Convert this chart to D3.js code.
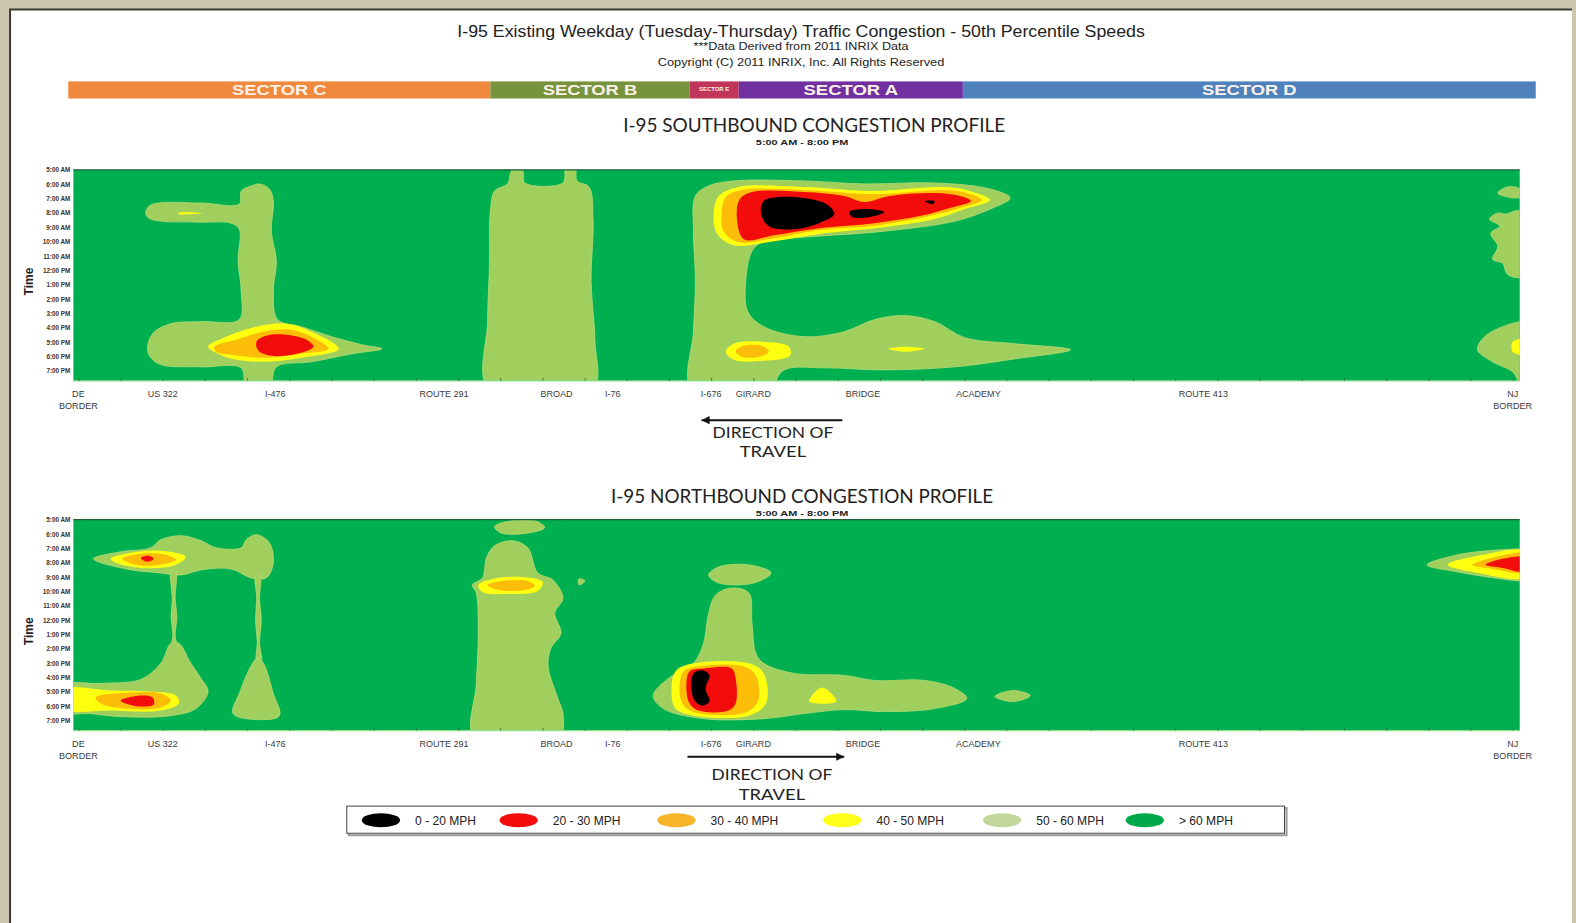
<!DOCTYPE html>
<html>
<head>
<meta charset="utf-8">
<script src="https://cdn.jsdelivr.net/npm/d3@7"></script>
<style>
html, body { margin: 0; padding: 0; background: #cdc6ad; }
svg { display: block; }
</style>
</head>
<body>
<svg id="chart" width="1576" height="923"></svg>
<script>
// ---- data ----
var sectors = [
    {name: "SECTOR C", from: -0.36, to: 14.65},
    {name: "SECTOR B", from: 14.65, to: 21.73},
    {name: "SECTOR E", from: 21.73, to: 23.48},
    {name: "SECTOR A", from: 23.48, to: 31.45},
    {name: "SECTOR D", from: 31.45, to: 51.82}
];

var locations = [
    {name: ["DE", "BORDER"], mile: 0},
    {name: ["US 322"], mile: 3.0},
    {name: ["I-476"], mile: 7.0},
    {name: ["ROUTE 291"], mile: 13.0},
    {name: ["BROAD"], mile: 17.0},
    {name: ["I-76"], mile: 19.0},
    {name: ["I-676"], mile: 22.5},
    {name: ["GIRARD"], mile: 24.0},
    {name: ["BRIDGE"], mile: 27.9},
    {name: ["ACADEMY"], mile: 32.0},
    {name: ["ROUTE 413"], mile: 40.0},
    {name: ["NJ", "BORDER"], mile: 51.0}
];

var hours = [5, 6, 7, 8, 9, 10, 11, 12, 13, 14, 15, 16, 17, 18, 19];
var hourLabels = ["5:00 AM", "6:00 AM", "7:00 AM", "8:00 AM", "9:00 AM", "10:00 AM", "11:00 AM",
    "12:00 PM", "1:00 PM", "2:00 PM", "3:00 PM", "4:00 PM", "5:00 PM", "6:00 PM", "7:00 PM"];

var speedClasses = ["0-20", "20-30", "30-40", "40-50", "50-60", ">60"];
var speedLabels = ["0 - 20 MPH", "20 - 30 MPH", "30 - 40 MPH", "40 - 50 MPH", "50 - 60 MPH", "> 60 MPH"];

// congestion zones: outline points [milepost, hour of day]
var southZones = [
    {cls: "50-60", pts: [[2.39,8.01],[2.57,7.45],[4.36,7.31],[5.72,7.38],[5.79,6.47],[6.15,6.12],[6.43,5.98],[6.79,6.33],[6.93,7.17],[6.86,9.27],[7.04,11.37],[6.93,13.47],[7.08,15.43],[7.93,15.92],[9.01,16.62],[10.08,17.18],[10.79,17.46],[9.72,17.81],[8.29,18.37],[7.04,18.72],[6.79,20.2],[5.97,20.2],[5.79,18.79],[4.36,18.72],[2.86,18.51],[2.47,17.67],[2.64,16.41],[3.29,15.71],[4.36,15.57],[5.72,15.43],[5.79,13.47],[5.68,11.37],[5.72,9.13],[5.43,8.71],[4.36,8.64],[2.93,8.57],[2.50,8.36]]},
    {cls: "40-50", pts: [[3.54,8.0],[4.0,7.95],[4.4,8.03],[4.0,8.1],[3.54,8.07]]},
    {cls: "40-50", pts: [[4.61,17.32],[5.25,16.62],[6.33,15.92],[7.40,15.71],[8.29,16.27],[9.26,17.46],[7.93,18.09],[6.68,18.37],[5.43,18.16],[4.97,17.81]]},
    {cls: "30-40", pts: [[4.83,17.32],[5.61,16.83],[6.58,16.27],[7.58,16.13],[8.36,16.69],[8.90,17.46],[7.93,17.81],[6.68,18.09],[5.43,17.88],[4.90,17.67]]},
    {cls: "20-30", pts: [[6.33,16.97],[6.68,16.55],[7.40,16.48],[8.11,16.83],[8.36,17.32],[7.76,17.81],[6.86,17.95],[6.40,17.60]]},
    {cls: "50-60", pts: [[14.58,20.2],[14.55,15.57],[14.62,11.37],[14.65,7.87],[14.80,6.47],[15.26,5.98],[15.37,5.2],[15.51,4.8],[15.80,5.07],[15.87,5.91],[17.23,5.91],[17.34,4.8],[17.66,4.8],[17.73,5.77],[18.16,6.19],[18.30,8.57],[18.23,12.77],[18.37,16.97],[18.30,20.2]]},
    {cls: "50-60", pts: [[21.80,20.2],[21.87,16.27],[21.94,12.77],[21.87,9.27],[21.94,6.82],[22.41,6.12],[23.30,5.77],[25.80,5.77],[27.95,5.98],[30.45,5.91],[32.42,6.33],[33.13,6.96],[32.42,7.73],[31.17,8.57],[28.66,9.27],[25.80,9.69],[24.37,9.97],[23.95,10.67],[23.73,12.77],[23.80,14.87],[24.37,15.92],[25.80,16.62],[27.23,16.27],[28.31,15.43],[29.38,15.15],[30.45,15.57],[31.52,16.69],[33.31,17.11],[35.28,17.53],[33.31,18.16],[31.17,18.72],[28.66,18.93],[26.52,18.79],[25.09,18.93],[24.55,20.2]]},
    {cls: "40-50", pts: [[22.59,8.01],[22.77,6.82],[23.48,6.19],[25.80,6.19],[28.31,6.47],[30.81,6.19],[31.70,6.47],[32.42,7.10],[31.52,7.73],[30.45,8.43],[28.66,8.99],[26.52,9.41],[24.73,9.97],[23.30,10.25],[22.70,9.41]]},
    {cls: "30-40", pts: [[22.87,8.01],[23.02,6.89],[23.59,6.40],[25.80,6.40],[28.31,6.68],[30.81,6.40],[31.59,6.61],[32.13,7.10],[31.35,7.66],[30.27,8.22],[28.48,8.85],[26.34,9.20],[24.73,9.76],[23.48,10.04],[22.94,9.27]]},
    {cls: "20-30", pts: [[23.41,8.22],[23.52,7.03],[23.95,6.54],[25.80,6.54],[27.23,6.82],[27.95,7.24],[28.84,6.82],[30.45,6.61],[31.35,6.82],[31.74,7.17],[30.99,7.66],[29.92,8.22],[28.31,8.71],[26.34,9.06],[24.73,9.55],[23.66,9.83]]},
    {cls: "0-20", pts: [[24.27,8.01],[24.37,7.17],[24.91,6.89],[25.80,6.96],[26.59,7.38],[26.88,8.08],[26.34,8.71],[25.45,9.13],[24.55,8.92]]},
    {cls: "0-20", pts: [[27.41,7.94],[27.95,7.73],[28.66,7.94],[28.13,8.29],[27.52,8.29]]},
    {cls: "0-20", pts: [[30.09,7.17],[30.45,7.17],[30.38,7.38]]},
    {cls: "40-50", pts: [[23.02,17.67],[23.30,17.11],[24.37,16.97],[25.27,17.32],[25.30,17.95],[24.37,18.30],[23.30,18.23]]},
    {cls: "30-40", pts: [[23.37,17.60],[23.66,17.25],[24.30,17.25],[24.55,17.67],[24.20,18.02],[23.59,18.02]]},
    {cls: "40-50", pts: [[28.80,17.46],[29.38,17.32],[30.09,17.46],[29.38,17.67]]},
    {cls: "50-60", pts: [[50.47,6.61],[50.82,6.19],[51.25,6.33],[51.25,6.89],[50.82,6.89]]},
    {cls: "50-60", pts: [[50.47,8.01],[50.75,8.08],[51.25,7.87],[51.32,12.42],[50.82,12.28],[50.64,11.51],[50.29,11.23],[50.47,10.32],[50.22,9.41],[50.54,8.92],[50.18,8.43]]},
    {cls: "50-60", pts: [[51.5,15.5],[51.25,15.57],[50.64,15.92],[50.0,16.62],[49.75,17.53],[50.29,18.37],[51.0,19.07],[51.25,19.8],[51.6,20.2]]},
    {cls: "40-50", pts: [[51.0,16.97],[51.4,16.83],[51.4,17.88],[51.0,17.67]]}
];

var northZones = [
    {cls: "50-60", pts: [[0.54,7.73],[1.50,7.24],[2.57,6.96],[2.93,6.40],[3.65,6.12],[4.36,6.47],[4.90,6.96],[5.79,6.96],[5.97,6.40],[6.33,6.05],[6.79,6.61],[6.93,8.01],[6.68,9.06],[6.15,9.06],[5.43,8.43],[4.36,8.50],[3.65,8.85],[2.93,8.71],[1.68,8.43]]},
    {cls: "50-60", pts: [[3.30,8.6],[3.46,8.6],[3.44,10.5],[3.50,11.8],[3.44,13.0],[3.48,13.8],[3.34,13.8],[3.36,13.0],[3.30,11.8],[3.34,10.5]]},
    {cls: "50-60", pts: [[6.30,8.8],[6.46,8.8],[6.44,10.5],[6.50,12.0],[6.44,13.5],[6.50,15.0],[6.34,15.0],[6.36,13.5],[6.30,12.0],[6.34,10.5]]},
    {cls: "50-60", pts: [[-0.5,16.55],[0.79,16.41],[2.22,16.13],[2.93,15.01],[3.29,13.61],[3.57,13.61],[4.00,15.01],[4.36,16.06],[4.61,16.97],[4.18,18.16],[3.29,18.65],[1.50,18.72],[0.43,18.51],[-0.5,18.37]]},
    {cls: "50-60", pts: [[6.36,14.66],[6.58,15.01],[6.93,17.11],[7.15,18.65],[6.43,18.93],[5.50,18.51],[5.72,17.11],[6.15,15.15]]},
    {cls: "40-50", pts: [[1.14,7.73],[1.86,7.31],[2.93,7.17],[3.82,7.59],[3.36,8.22],[2.22,8.36],[1.43,8.08]]},
    {cls: "30-40", pts: [[1.57,7.73],[2.22,7.38],[3.11,7.45],[3.47,7.80],[2.93,8.15],[2.04,8.15]]},
    {cls: "20-30", pts: [[2.22,7.66],[2.50,7.52],[2.68,7.73],[2.43,7.94]]},
    {cls: "40-50", pts: [[-0.5,16.83],[1.14,16.90],[2.57,16.97],[3.47,17.25],[3.57,17.81],[2.93,18.30],[1.14,18.30],[-0.5,18.16]]},
    {cls: "30-40", pts: [[0.61,17.39],[1.86,17.04],[2.93,17.11],[3.29,17.60],[2.93,18.09],[1.68,18.16],[0.79,17.81]]},
    {cls: "20-30", pts: [[1.50,17.60],[2.22,17.25],[2.64,17.39],[2.68,17.88],[2.22,18.02],[1.68,17.81]]},
    {cls: "50-60", pts: [[14.08,20.2],[14.15,16.41],[14.22,12.91],[14.15,10.11],[14.01,9.55],[14.37,9.06],[14.51,7.66],[14.80,6.82],[15.44,6.47],[15.98,6.96],[16.33,8.71],[16.87,9.20],[17.23,10.46],[16.94,11.51],[17.16,12.91],[16.80,13.96],[16.70,15.2],[17.05,17.46],[17.23,18.51],[17.09,20.2]]},
    {cls: "50-60", pts: [[14.80,5.49],[15.44,5.07],[16.33,5.14],[16.58,5.56],[15.80,5.98],[15.01,5.91]]},
    {cls: "50-60", pts: [[17.80,9.13],[18.01,9.27],[17.80,9.55]]},
    {cls: "40-50", pts: [[14.22,9.55],[14.72,9.13],[15.80,8.99],[16.51,9.34],[16.33,9.97],[15.22,10.18],[14.36,10.04]]},
    {cls: "30-40", pts: [[14.54,9.55],[15.08,9.27],[15.98,9.27],[16.23,9.62],[15.87,9.90],[14.94,9.90]]},
    {cls: "50-60", pts: [[22.41,8.85],[22.77,8.29],[23.84,8.15],[24.63,8.71],[24.02,9.41],[22.77,9.41]]},
    {cls: "50-60", pts: [[22.66,10.25],[23.23,9.76],[23.84,10.11],[23.95,12.21],[24.09,14.31],[24.37,15.01],[25.45,15.71],[27.23,15.85],[28.31,16.20],[30.09,16.20],[31.17,16.76],[31.59,17.46],[30.45,18.16],[28.66,18.37],[27.23,18.23],[25.80,18.51],[24.37,18.86],[22.23,18.86],[20.80,18.16],[20.44,17.25],[20.98,16.06],[21.87,15.01],[22.23,13.61],[22.41,11.51]]},
    {cls: "50-60", pts: [[32.59,17.32],[33.24,16.90],[33.85,17.25],[33.24,17.67]]},
    {cls: "40-50", pts: [[21.09,17.11],[21.23,15.57],[21.87,15.01],[23.84,15.01],[24.37,15.71],[24.45,17.81],[23.84,18.65],[21.87,18.65],[21.23,18.16]]},
    {cls: "30-40", pts: [[21.37,16.97],[21.52,15.57],[22.05,15.22],[23.66,15.22],[24.09,15.85],[24.16,17.67],[23.73,18.44],[21.94,18.44],[21.52,17.95]]},
    {cls: "20-30", pts: [[21.62,16.76],[21.73,15.57],[22.23,15.36],[23.23,15.36],[23.37,16.06],[23.37,17.81],[23.12,18.30],[22.05,18.30],[21.73,17.81]]},
    {cls: "0-20", pts: [[21.87,15.71],[22.23,15.50],[22.44,15.85],[22.30,16.76],[22.44,17.67],[22.16,17.95],[21.87,17.46]]},
    {cls: "40-50", pts: [[25.98,17.67],[26.45,16.69],[26.95,17.67]]},
    {cls: "50-60", pts: [[47.96,8.15],[49.04,7.45],[50.11,7.17],[51.25,7.03],[51.6,7.0],[51.6,9.27],[51.25,9.27],[50.11,8.99],[49.04,8.64]]},
    {cls: "40-50", pts: [[48.68,8.15],[49.75,7.52],[51.6,7.24],[51.6,8.99],[49.75,8.71]]},
    {cls: "30-40", pts: [[49.57,8.15],[50.29,7.66],[51.6,7.38],[51.6,8.64],[50.29,8.43]]},
    {cls: "20-30", pts: [[50.04,8.15],[50.64,7.73],[51.6,7.66],[51.6,8.64],[50.64,8.36]]}
];

// ---- styles ----
var speedColor = d3.scaleOrdinal().domain(speedClasses)
    .range(["#000000", "#f20c0c", "#fbbd08", "#ffff10", "#a0cf5e", "#00b050"]);
var legendColor = d3.scaleOrdinal().domain(speedClasses)
    .range(["#000000", "#f20c0c", "#f6b426", "#ffff1a", "#c3d69b", "#00a84c"]);
var sectorColor = d3.scaleOrdinal().domain(sectors.map(function(d) { return d.name; }))
    .range(["#f0883e", "#77933c", "#c0365a", "#7030a0", "#4f81bd"]);

var narrow = "'Liberation Sans Narrow', 'Arial Narrow', 'Liberation Sans', Arial, sans-serif";
var sans = "'Liberation Sans', Arial, sans-serif";
var humanist = "Lato, 'Open Sans', sans-serif";

var svg = d3.select("#chart");
var root = svg.append("g").attr("transform", "scale(" + (1576 / 1568) + ")");

// frame
root.append("rect").attr("x", 11).attr("y", 10).attr("width", 1553).attr("height", 920).attr("fill", "#ffffff");
root.append("path").attr("d", "M10,930V9.5H1564").attr("fill", "none")
    .attr("stroke", "#3b3b38").attr("stroke-width", 2);

var x = d3.scaleLinear().domain([0, 51]).range([78, 1505]);
var plotX0 = 73, plotX1 = 1512;

// titles
function addText(txt, cx, cy, size, opts) {
    opts = opts || {};
    var t = root.append("text").attr("x", cx).attr("y", cy)
        .attr("text-anchor", opts.anchor || "middle")
        .attr("font-family", opts.family || sans)
        .attr("font-size", size)
        .attr("font-weight", opts.weight || "normal")
        .attr("fill", opts.fill || "#1a1a1a")
        .text(txt);
    if (opts.len) t.attr("textLength", opts.len).attr("lengthAdjust", "spacingAndGlyphs");
    return t;
}

addText("I-95 Existing Weekday (Tuesday-Thursday) Traffic Congestion - 50th Percentile Speeds", 797, 37, 16, {family: narrow, len: 684, fill: "#222"});
addText("***Data Derived from 2011 INRIX Data", 797, 50, 10.5, {family: narrow, len: 214, fill: "#222"});
addText("Copyright (C) 2011 INRIX, Inc. All Rights Reserved", 797, 66, 11, {family: narrow, len: 285, fill: "#222"});

// sector bar
var sec = root.append("g");
sec.selectAll("rect").data(sectors).enter().append("rect")
    .attr("x", function(d) { return x(d.from); })
    .attr("width", function(d) { return x(d.to) - x(d.from); })
    .attr("y", 81).attr("height", 17)
    .attr("fill", function(d) { return sectorColor(d.name); });
sec.selectAll("text").data(sectors).enter().append("text")
    .attr("x", function(d) { return (x(d.from) + x(d.to)) / 2; })
    .attr("y", function(d) { return d.name === "SECTOR E" ? 91 : 95; })
    .attr("text-anchor", "middle")
    .attr("font-family", sans).attr("font-weight", "bold")
    .attr("font-size", function(d) { return d.name === "SECTOR E" ? 5 : 14.5; })
    .attr("fill", "#fbf1e8")
    .attr("textLength", function(d) { return d.name === "SECTOR E" ? 30 : 94; })
    .attr("lengthAdjust", "spacingAndGlyphs")
    .text(function(d) { return d.name; });

var line = d3.line().curve(d3.curveCatmullRomClosed.alpha(0.5));

function drawProfile(top, zones, id) {
    var y = d3.scaleLinear().domain([5, 19]).range([top, top + 200]);
    var bottom = top + 210;
    var g = root.append("g");

    root.append("clipPath").attr("id", id).append("rect")
        .attr("x", plotX0).attr("y", top).attr("width", plotX1 - plotX0).attr("height", bottom - top);

    g.append("rect").attr("x", plotX0).attr("y", top)
        .attr("width", plotX1 - plotX0).attr("height", bottom - top)
        .attr("fill", speedColor(">60"));

    var zg = g.append("g").attr("clip-path", "url(#" + id + ")");
    zg.selectAll("path").data(zones).enter().append("path")
        .attr("d", function(d) {
            return line.x(function(p) { return x(p[0]); }).y(function(p) { return y(p[1]); })(d.pts);
        })
        .attr("fill", function(d) { return speedColor(d.cls); })
        .attr("stroke", function(d) { return d.cls === "50-60" ? "#b6dd77" : "none"; })
        .attr("stroke-width", 0.8);

    // plot edges
    g.append("line").attr("x1", plotX0).attr("x2", plotX1).attr("y1", top).attr("y2", top)
        .attr("stroke", "#1f5f38").attr("stroke-width", 1.2);
    g.append("line").attr("x1", plotX0).attr("x2", plotX1).attr("y1", bottom).attr("y2", bottom)
        .attr("stroke", "#8fe08f").attr("stroke-width", 1.2);

    // minor ticks along the bottom
    var minor = d3.axisBottom(x).tickValues(d3.range(0, 52, 1.5)).tickSize(-3).tickFormat("");
    g.append("g").attr("transform", "translate(0," + bottom + ")").call(minor)
        .call(function(a) { a.select(".domain").remove(); })
        .selectAll("line").attr("stroke", "#2d6b3e").attr("stroke-width", 0.8);

    // time axis
    var ya = d3.axisLeft(y).tickValues(hours).tickSize(0).tickPadding(3)
        .tickFormat(function(d, i) { return hourLabels[i]; });
    g.append("g").attr("transform", "translate(" + plotX0 + ",0)").call(ya)
        .call(function(a) { a.select(".domain").remove(); })
        .selectAll("text").attr("font-family", sans).attr("font-size", 6.3)
        .attr("font-weight", "bold").attr("fill", "#333");

    g.append("text").attr("transform", "translate(33," + (top + 111) + ") rotate(-90)")
        .attr("text-anchor", "middle").attr("font-family", sans).attr("font-weight", "bold")
        .attr("font-size", 12).attr("fill", "#222").text("Time");

    // location labels
    var lab = g.selectAll(".loc").data(locations).enter().append("text")
        .attr("class", "loc")
        .attr("text-anchor", "middle")
        .attr("font-family", sans).attr("font-size", 9).attr("fill", "#3a3a3a");
    lab.selectAll("tspan").data(function(d) { return d.name.map(function(n) { return {n: n, m: d.mile}; }); })
        .enter().append("tspan")
        .attr("x", function(d) { return x(d.m); })
        .attr("y", function(d, i) { return bottom + 16 + i * 12; })
        .text(function(d) { return d.n; });
}

// southbound
addText("I-95 SOUTHBOUND CONGESTION PROFILE", 810, 131, 19, {family: humanist, len: 380, fill: "#222"});
addText("5:00 AM - 8:00 PM", 798, 144, 7.5, {weight: "bold", len: 92, fill: "#222"});
drawProfile(169, southZones, "clipS");

// northbound
addText("I-95 NORTHBOUND CONGESTION PROFILE", 798, 500, 19, {family: humanist, len: 380, fill: "#222"});
addText("5:00 AM - 8:00 PM", 798, 513, 7.5, {weight: "bold", len: 92, fill: "#222"});
drawProfile(517, northZones, "clipN");

// direction of travel arrows
function arrow(x1, x2, yy, left) {
    root.append("line").attr("x1", x1).attr("x2", x2).attr("y1", yy).attr("y2", yy)
        .attr("stroke", "#111").attr("stroke-width", 2);
    var tip = left ? x1 : x2, d = left ? 8 : -8;
    root.append("path").attr("d", "M" + tip + "," + yy + "L" + (tip + d) + "," + (yy - 4) + "L" + (tip + d) + "," + (yy + 4) + "Z")
        .attr("fill", "#111");
}
arrow(698, 838, 418, true);
addText("DIRECTION OF", 769, 436, 16, {family: humanist, len: 120, fill: "#222"});
addText("TRAVEL", 769, 455, 16, {family: humanist, len: 66, fill: "#222"});

arrow(684, 840, 753, false);
addText("DIRECTION OF", 768, 776, 16, {family: humanist, len: 120, fill: "#222"});
addText("TRAVEL", 768, 796, 16, {family: humanist, len: 66, fill: "#222"});

// legend
var legendX = [379, 516, 673, 838, 997, 1139];
var lg = root.append("g");
lg.append("rect").attr("x", 347).attr("y", 804).attr("width", 933).attr("height", 27)
    .attr("fill", "none").attr("stroke", "#9a9a9a").attr("stroke-width", 2);
lg.append("rect").attr("x", 345).attr("y", 802).attr("width", 933).attr("height", 27)
    .attr("fill", "#fff").attr("stroke", "#444").attr("stroke-width", 1);
var items = lg.selectAll(".item").data(speedClasses).enter().append("g")
    .attr("transform", function(d, i) { return "translate(" + legendX[i] + ",816)"; });
items.append("ellipse").attr("rx", 19).attr("ry", 7)
    .attr("fill", function(d) { return legendColor(d); });
items.append("text").attr("x", 34).attr("y", 4.5)
    .attr("font-family", narrow).attr("font-size", 12).attr("fill", "#222")
    .text(function(d, i) { return speedLabels[i]; });
</script>
</body>
</html>
